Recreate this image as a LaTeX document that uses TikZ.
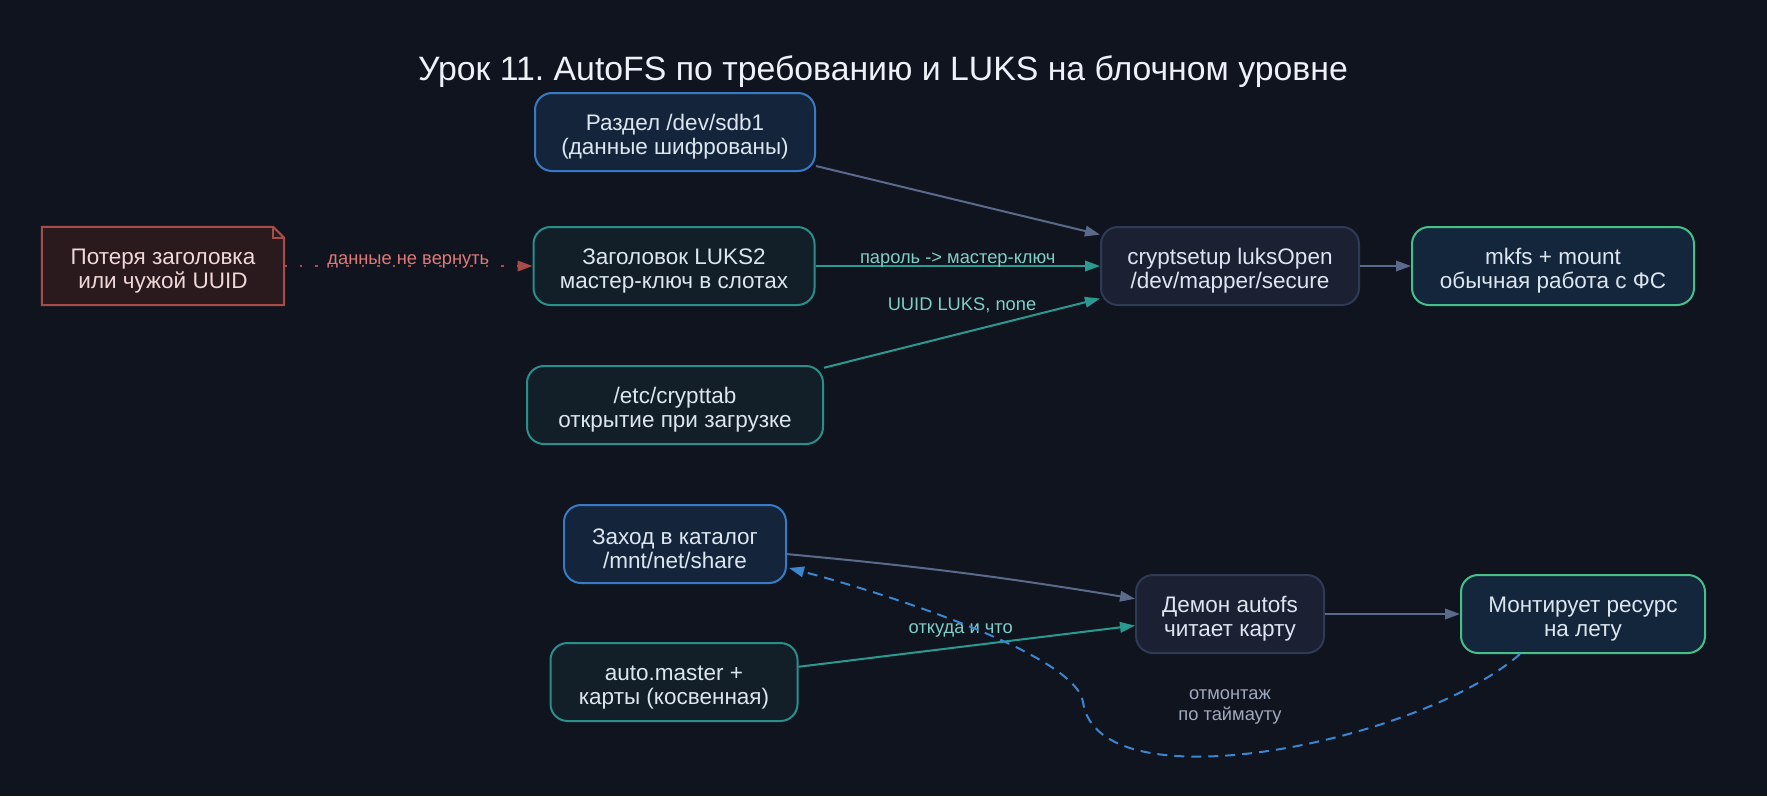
\documentclass[tikz,border=0pt]{standalone}
\usepackage{fontspec}
\setmainfont{Liberation Sans}
\usetikzlibrary{arrows.meta,calc}
\frenchspacing
\definecolor{bg}{HTML}{10141F}
\definecolor{txt}{HTML}{DCE6F0}
\definecolor{bluefill}{HTML}{14253B}
\definecolor{blueline}{HTML}{3A7AC4}
\definecolor{tealfill}{HTML}{131F28}
\definecolor{tealline}{HTML}{2A8F8A}
\definecolor{grayfill}{HTML}{1C2033}
\definecolor{grayline}{HTML}{2F3A56}
\definecolor{greenfill}{HTML}{14263B}
\definecolor{greenline}{HTML}{46C088}
\definecolor{notefill}{HTML}{2A1A1D}
\definecolor{noteline}{HTML}{A84C4A}
\definecolor{notetxt}{HTML}{F0D8D8}
\definecolor{edgegray}{HTML}{5B6A8A}
\definecolor{edgeteal}{HTML}{2A9A90}
\definecolor{edgered}{HTML}{A84C4A}
\definecolor{edgeblue}{HTML}{3A86D0}
\definecolor{lblteal}{HTML}{7FCFC8}
\definecolor{lblred}{HTML}{E07A78}
\definecolor{lblgray}{HTML}{A0AABE}
\definecolor{titlecol}{HTML}{EEF2F8}
\newcommand\tst{\rule{0pt}{25.5pt}}
\tikzset{
  nodefont/.style={font=\fontsize{22.5}{24}\selectfont},
  base box/.style={rounded corners=17pt, line width=2pt, minimum height=78pt, inner sep=0pt, align=center, text=txt, nodefont},
  bluebox/.style={base box, draw=blueline, fill=bluefill},
  tealbox/.style={base box, draw=tealline, fill=tealfill},
  graybox/.style={base box, draw=grayline, fill=grayfill},
  greenbox/.style={base box, draw=greenline, fill=greenfill},
  notebox/.style={minimum height=78pt, inner sep=0pt, align=center, text=notetxt, nodefont},
  arr/.style={line width=2pt, -{Triangle[length=15pt,width=10.5pt]}},
  egray/.style={arr, draw=edgegray},
  eteal/.style={arr, draw=edgeteal},
  ered/.style={arr, draw=edgered, dash pattern=on 2.5pt off 13pt},
  eblue/.style={arr, draw=edgeblue, dash pattern=on 10pt off 7pt},
  lbl/.style={font=\fontsize{18.3}{21}\selectfont, inner sep=0pt, anchor=base},
}
\begin{document}
\begin{tikzpicture}[x=1pt,y=-1pt]
\fill[bg] (0,0) rectangle (1767,796);
\useasboundingbox (0,0) rectangle (1767,796);

\node[text=titlecol, font=\fontsize{33.8}{38}\selectfont] (title) at (883,72) {Урок 11. AutoFS по требованию и LUKS на блочном уровне};

% note shape (folded corner)
\fill[notefill] (42,227) -- (273,227) -- (284,238) -- (284,305) -- (42,305) -- cycle;
\node[notebox, minimum width=242pt] (note) at (163,266) {\tst Потеря заголовка\\или чужой UUID};
\draw[noteline, line width=2pt, line join=miter] (note.north west) -- ([xshift=-11pt]note.north east) -- ([yshift=-11pt]note.north east) -- (note.south east) -- (note.south west) -- cycle;
\draw[noteline, line width=1.5pt] ([xshift=-11pt]note.north east) -- ([xshift=-11pt,yshift=-11pt]note.north east) -- ([yshift=-11pt]note.north east);

\node[bluebox, minimum width=280pt] (sdb1) at (675,132) {\tst Раздел /dev/sdb1\\(данные шифрованы)};
\node[tealbox, minimum width=281pt] (luks) at (674,266) {\tst Заголовок LUKS2\\мастер-ключ в слотах};
\node[tealbox, minimum width=296pt] (crypttab) at (675,405) {\tst /etc/crypttab\\открытие при загрузке};
\node[graybox, minimum width=258pt] (cs) at (1230,266) {\tst cryptsetup luksOpen\\/dev/mapper/secure};
\node[greenbox, minimum width=282pt] (mkfs) at (1553,266) {\tst mkfs + mount\\обычная работа с ФС};

\node[bluebox, minimum width=222pt] (zahod) at (675,544) {\tst Заход в каталог\\/mnt/net/share};
\node[tealbox, minimum width=247pt] (automaster) at (674,682) {\tst auto.master +\\карты (косвенная)};
\node[graybox, minimum width=188pt] (demon) at (1230,614) {\tst Демон autofs\\читает карту};
\node[greenbox, minimum width=244pt] (montir) at (1583,614) {\tst Монтирует ресурс\\на лету};

% edges
\draw[ered] (note) -- node[lbl, text=lblred, yshift=2pt] {данные не вернуть} (luks);
\draw[egray] (sdb1) -- (cs);
\draw[eteal] (luks) -- node[lbl, text=lblteal, yshift=3pt] {пароль -> мастер-ключ} (cs);
\draw[eteal] (crypttab) -- node[lbl, text=lblteal, yshift=23pt] {UUID LUKS, none} (cs);
\draw[egray] (cs) -- (mkfs);

\draw[egray] (zahod) to[bend left=2] (demon);
\draw[eteal] (automaster) -- node[lbl, text=lblteal, yshift=13pt, xshift=-6pt] {откуда и что} (demon);
\draw[egray] (demon) -- (montir);

\coordinate (m1) at ([xshift=-63pt]montir.south);
\coordinate (zt) at ([xshift=2pt,yshift=-24pt]zahod.east);
\coordinate (mid) at (1083,702);
\draw[eblue] (m1) .. controls (1420,742) and (1098,808) .. (mid) .. controls (1076,655) and (888,594) .. (zt);
\node[font=\fontsize{18.3}{21.5}\selectfont, text=lblgray, align=center, inner sep=0pt] (unmount) at (1230,707) {отмонтаж\\по таймауту};
\end{tikzpicture}
\end{document}
